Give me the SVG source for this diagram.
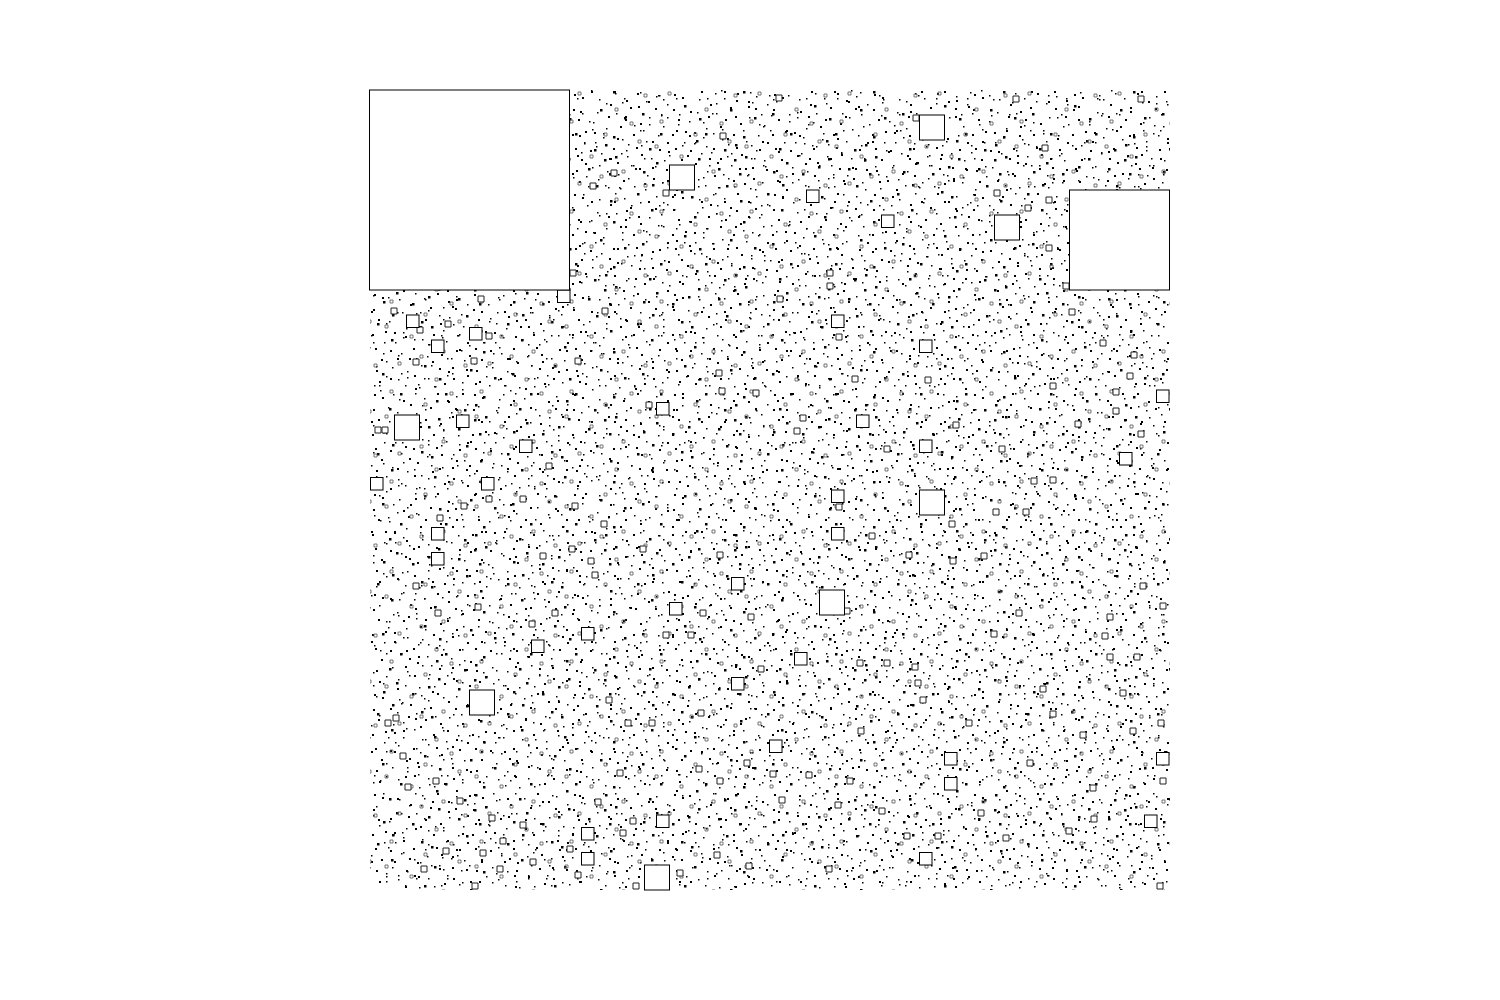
<svg xmlns="http://www.w3.org/2000/svg" width="1500" height="1000" viewBox="0 0 1500 1000">
<style>
.q{fill:#fff;stroke:#000;stroke-width:1}
.s{fill:#fff;stroke:#222;stroke-width:1}
.d{fill:#000}
.o{fill:none;stroke:#555;stroke-width:0.8}
</style>
<defs>
<pattern id="pa" x="370" y="90" width="100" height="100" patternUnits="userSpaceOnUse">
<path class="d" d="M12 7h2v2h-2zM78 11h2v2h-2zM3 19h2v2h-2zM60 17h2v2h-2zM70 33h2v2h-2zM15 41h2v2h-2zM5 58h2v2h-2zM66 57h2v2h-2zM96 79h2v2h-2zM47 72h2v2h-2zM9 91h2v2h-2zM74 93h2v2h-2zM40 14h2v2h-2zM55 29h2v2h-2zM63 44h2v2h-2zM43 58h2v2h-2zM11 69h2v2h-2zM89 59h2v2h-2zM69 78h2v2h-2zM83 88h2v2h-2zM2 44h2v2h-2zM67 3h2v2h-2zM50 36h2v2h-2zM8 29h2v2h-2zM71 64h2v2h-2zM20 60h2v2h-2zM44 85h2v2h-2zM6 80h2v2h-2zM85 18h2v2h-2zM38 26h2v2h-2zM97 52h2v2h-2zM24 42h2v2h-2zM82 77h2v2h-2zM4 4h2v2h-2zM39 68h2v2h-2z"/>
<path class="d" d="M45 3h1.5v1.5h-1.5zM91 24h1.5v1.5h-1.5zM27 22h1.5v1.5h-1.5zM36 38h1.5v1.5h-1.5zM88 45h1.5v1.5h-1.5zM52 49h1.5v1.5h-1.5zM31 63h1.5v1.5h-1.5zM81 68h1.5v1.5h-1.5zM22 77h1.5v1.5h-1.5zM58 88h1.5v1.5h-1.5zM35 95h1.5v1.5h-1.5zM86 6h1.5v1.5h-1.5zM19 31h1.5v1.5h-1.5zM93 36h1.5v1.5h-1.5zM25 52h1.5v1.5h-1.5zM76 51h1.5v1.5h-1.5zM57 66h1.5v1.5h-1.5zM37 81h1.5v1.5h-1.5zM16 86h1.5v1.5h-1.5zM49 97h1.5v1.5h-1.5zM29 9h1.5v1.5h-1.5zM97 14h1.5v1.5h-1.5zM79 27h1.5v1.5h-1.5zM33 47h1.5v1.5h-1.5zM94 70h1.5v1.5h-1.5zM61 75h1.5v1.5h-1.5zM28 89h1.5v1.5h-1.5zM73 40h1.5v1.5h-1.5zM54 8h1.5v1.5h-1.5zM14 52h1.5v1.5h-1.5zM64 96h1.5v1.5h-1.5zM46 23h1.5v1.5h-1.5zM58 54h1.5v1.5h-1.5zM92 92h1.5v1.5h-1.5zM77 85h1.5v1.5h-1.5z"/>
</pattern>
<pattern id="pb" x="395" y="121" width="130" height="130" patternUnits="userSpaceOnUse">
<path class="d" d="M5 12h2.5v2.5h-2.5zM41 19h2.5v2.5h-2.5zM88 15h2.5v2.5h-2.5zM124 27h2.5v2.5h-2.5zM33 45h2.5v2.5h-2.5zM79 38h2.5v2.5h-2.5zM118 50h2.5v2.5h-2.5zM26 70h2.5v2.5h-2.5zM71 64h2.5v2.5h-2.5zM112 72h2.5v2.5h-2.5zM39 95h2.5v2.5h-2.5zM85 79h2.5v2.5h-2.5zM126 88h2.5v2.5h-2.5zM29 114h2.5v2.5h-2.5zM75 118h2.5v2.5h-2.5zM117 122h2.5v2.5h-2.5zM44 127h2.5v2.5h-2.5zM88 100h2.5v2.5h-2.5zM36 75h2.5v2.5h-2.5zM80 23h2.5v2.5h-2.5zM17 52h2.5v2.5h-2.5zM63 47h2.5v2.5h-2.5zM50 12h2.5v2.5h-2.5zM99 126h2.5v2.5h-2.5zM43 37h2.5v2.5h-2.5zM84 52h2.5v2.5h-2.5zM127 63h2.5v2.5h-2.5zM90 35h2.5v2.5h-2.5zM69 28h2.5v2.5h-2.5zM1 41h2.5v2.5h-2.5z"/>
<path class="d" d="M23 3h1.5v1.5h-1.5zM67 8h1.5v1.5h-1.5zM109 4h1.5v1.5h-1.5zM14 34h1.5v1.5h-1.5zM56 31h1.5v1.5h-1.5zM101 29h1.5v1.5h-1.5zM7 61h1.5v1.5h-1.5zM48 56h1.5v1.5h-1.5zM93 53h1.5v1.5h-1.5zM19 88h1.5v1.5h-1.5zM62 84h1.5v1.5h-1.5zM104 96h1.5v1.5h-1.5zM3 104h1.5v1.5h-1.5zM52 107h1.5v1.5h-1.5zM97 111h1.5v1.5h-1.5zM12 126h1.5v1.5h-1.5zM66 99h1.5v1.5h-1.5zM121 110h1.5v1.5h-1.5zM58 73h1.5v1.5h-1.5zM95 67h1.5v1.5h-1.5zM108 44h1.5v1.5h-1.5zM27 24h1.5v1.5h-1.5zM74 94h1.5v1.5h-1.5zM8 81h1.5v1.5h-1.5zM115 9h1.5v1.5h-1.5zM21 107h1.5v1.5h-1.5zM57 122h1.5v1.5h-1.5zM33 59h1.5v1.5h-1.5zM106 84h1.5v1.5h-1.5zM47 86h1.5v1.5h-1.5z"/>
</pattern>
<pattern id="pe" x="412" y="97" width="110" height="110" patternUnits="userSpaceOnUse">
<path class="d" d="M6 9h2v2h-2zM31 2h1.5v1.5h-1.5zM58 14h2v2h-2zM84 6h1.5v1.5h-1.5zM103 19h2v2h-2zM17 27h1.5v1.5h-1.5zM44 33h2v2h-2zM71 25h1.5v1.5h-1.5zM95 41h2v2h-2zM9 48h1.5v1.5h-1.5zM36 54h2v2h-2zM62 46h1.5v1.5h-1.5zM88 61h2v2h-2zM23 69h1.5v1.5h-1.5zM50 76h2v2h-2zM77 68h1.5v1.5h-1.5zM101 83h2v2h-2zM13 92h1.5v1.5h-1.5zM40 99h2v2h-2zM66 89h1.5v1.5h-1.5zM92 104h2v2h-2zM27 108h1.5v1.5h-1.5zM55 58h2v2h-2zM81 36h1.5v1.5h-1.5zM3 71h2v2h-2zM47 17h1.5v1.5h-1.5zM69 104h2v2h-2zM99 56h1.5v1.5h-1.5zM20 44h2v2h-2zM86 90h1.5v1.5h-1.5zM35 83h2v2h-2zM74 49h1.5v1.5h-1.5zM57 38h2v2h-2zM12 61h1.5v1.5h-1.5zM104 3h2v2h-2zM29 18h1.5v1.5h-1.5zM63 66h2v2h-2zM91 77h1.5v1.5h-1.5zM44 92h2v2h-2zM8 105h1.5v1.5h-1.5z"/>
</pattern>
<pattern id="pc" x="380" y="100" width="90" height="90" patternUnits="userSpaceOnUse">
<path class="o" d="M10 20h3v3h-3zM55 8h3v3h-3zM78 40h3v3h-3zM30 55h3v3h-3zM62 70h3v3h-3zM18 82h3v3h-3zM44 33h3v3h-3zM84 84h3v3h-3zM5 45h3v3h-3zM70 22h3v3h-3zM40 75h3v3h-3z"/>
</pattern>
</defs>
<rect x="0" y="0" width="1500" height="1000" fill="#fff"/>
<g id="specks">
<rect x="370" y="90" width="800" height="800" fill="url(#pa)"/>
<rect x="370" y="90" width="800" height="800" fill="url(#pb)"/>
<rect x="370" y="90" width="800" height="800" fill="url(#pe)"/>
<rect x="370" y="90" width="800" height="800" fill="url(#pc)"/>
</g>
<g id="small-squares">
<path class="s" d="M776 95h6v6h-6zM1013 96h6v6h-6zM1138 96h6v6h-6zM720 133h6v6h-6zM590 183h6v6h-6zM611 170h6v6h-6zM1042 145h6v6h-6zM1046 197h6v6h-6zM1025 205h6v6h-6zM994 190h6v6h-6zM1046 245h6v6h-6zM827 270h6v6h-6zM827 283h6v6h-6zM777 296h6v6h-6zM602 308h6v6h-6zM478 296h6v6h-6zM391 308h6v6h-6zM445 321h6v6h-6zM486 333h6v6h-6zM413 359h6v6h-6zM417 327h6v6h-6zM471 358h6v6h-6zM575 358h6v6h-6zM716 370h6v6h-6zM719 388h6v6h-6zM646 402h6v6h-6zM800 415h6v6h-6zM794 428h6v6h-6zM753 390h6v6h-6zM852 376h6v6h-6zM836 334h6v6h-6zM925 377h6v6h-6zM953 422h6v6h-6zM1069 309h6v6h-6zM1100 340h6v6h-6zM1131 352h6v6h-6zM1127 373h6v6h-6zM1050 383h6v6h-6zM1113 389h6v6h-6zM1113 408h6v6h-6zM1075 421h6v6h-6zM1138 431h6v6h-6zM999 446h6v6h-6zM884 446h6v6h-6zM1031 478h6v6h-6zM1050 477h6v6h-6zM993 509h6v6h-6zM1023 509h6v6h-6zM949 521h6v6h-6zM981 553h6v6h-6zM950 558h6v6h-6zM906 552h6v6h-6zM869 533h6v6h-6zM836 504h6v6h-6zM717 552h6v6h-6zM640 546h6v6h-6zM569 546h6v6h-6zM588 558h6v6h-6zM592 572h6v6h-6zM540 553h6v6h-6zM546 463h6v6h-6zM572 503h6v6h-6zM601 521h6v6h-6zM520 496h6v6h-6zM486 496h6v6h-6zM461 503h6v6h-6zM437 515h6v6h-6zM413 583h6v6h-6zM435 610h6v6h-6zM475 604h6v6h-6zM552 610h6v6h-6zM529 621h6v6h-6zM700 610h6v6h-6zM688 632h6v6h-6zM663 632h6v6h-6zM748 614h6v6h-6zM758 666h6v6h-6zM844 608h6v6h-6zM857 660h6v6h-6zM884 660h6v6h-6zM912 664h6v6h-6zM915 680h6v6h-6zM920 697h6v6h-6zM966 720h6v6h-6zM1040 686h6v6h-6zM1050 711h6v6h-6zM1134 654h6v6h-6zM1107 654h6v6h-6zM1107 614h6v6h-6zM1102 633h6v6h-6zM1016 610h6v6h-6zM991 631h6v6h-6zM1160 603h6v6h-6zM1130 728h6v6h-6zM1158 720h6v6h-6zM1120 690h6v6h-6zM1080 732h6v6h-6zM1160 778h6v6h-6zM1090 785h6v6h-6zM1091 816h6v6h-6zM1066 828h6v6h-6zM1003 835h6v6h-6zM978 810h6v6h-6zM935 833h6v6h-6zM904 833h6v6h-6zM879 808h6v6h-6zM847 778h6v6h-6zM835 802h6v6h-6zM806 772h6v6h-6zM779 797h6v6h-6zM770 771h6v6h-6zM744 760h6v6h-6zM717 778h6v6h-6zM696 766h6v6h-6zM698 710h6v6h-6zM649 720h6v6h-6zM606 697h6v6h-6zM625 720h6v6h-6zM617 770h6v6h-6zM595 799h6v6h-6zM630 818h6v6h-6zM620 830h6v6h-6zM567 846h6v6h-6zM575 872h6v6h-6zM530 859h6v6h-6zM497 866h6v6h-6zM472 883h6v6h-6zM421 866h6v6h-6zM443 848h6v6h-6zM480 850h6v6h-6zM500 838h6v6h-6zM520 822h6v6h-6zM489 815h6v6h-6zM457 798h6v6h-6zM433 778h6v6h-6zM405 784h6v6h-6zM400 753h6v6h-6zM385 720h6v6h-6zM393 715h6v6h-6zM1157 883h6v6h-6zM1063 283h6v6h-6zM570 270h6v6h-6zM913 115h6v6h-6zM663 190h6v6h-6zM375 427h6v6h-6zM382 427h6v6h-6zM1140 583h6v6h-6zM1027 760h6v6h-6zM858 728h6v6h-6zM826 866h6v6h-6zM746 863h6v6h-6zM714 852h6v6h-6zM677 870h6v6h-6zM633 883h6v6h-6z"/>
</g>
<g id="medium-squares">
<rect class="q" x="557.5" y="290" width="12.5" height="12.5"/>
<rect class="q" x="406.5" y="315" width="12.5" height="12.5"/>
<rect class="q" x="431.5" y="340" width="12.5" height="12.5"/>
<rect class="q" x="469.5" y="327.5" width="12.5" height="12.5"/>
<rect class="q" x="456.5" y="415" width="12.5" height="12.5"/>
<rect class="q" x="519.5" y="440" width="12.5" height="12.5"/>
<rect class="q" x="481.5" y="477.5" width="12.5" height="12.5"/>
<rect class="q" x="370.5" y="477.5" width="12.5" height="12.5"/>
<rect class="q" x="431.5" y="527.5" width="12.5" height="12.5"/>
<rect class="q" x="431.5" y="552.5" width="12.5" height="12.5"/>
<rect class="q" x="581.5" y="627.5" width="12.5" height="12.5"/>
<rect class="q" x="531.5" y="640" width="12.5" height="12.5"/>
<rect class="q" x="669.5" y="602.5" width="12.5" height="12.5"/>
<rect class="q" x="731.5" y="577.5" width="12.5" height="12.5"/>
<rect class="q" x="731.5" y="677.5" width="12.5" height="12.5"/>
<rect class="q" x="794.5" y="652.5" width="12.5" height="12.5"/>
<rect class="q" x="831.5" y="490" width="12.5" height="12.5"/>
<rect class="q" x="831.5" y="527.5" width="12.5" height="12.5"/>
<rect class="q" x="856.5" y="415" width="12.5" height="12.5"/>
<rect class="q" x="831.5" y="315" width="12.5" height="12.5"/>
<rect class="q" x="919.5" y="340" width="12.5" height="12.5"/>
<rect class="q" x="919.5" y="440" width="12.5" height="12.5"/>
<rect class="q" x="1119.5" y="452.5" width="12.5" height="12.5"/>
<rect class="q" x="1156.5" y="390" width="12.5" height="12.5"/>
<rect class="q" x="1156.5" y="752.5" width="12.5" height="12.5"/>
<rect class="q" x="1144.5" y="815" width="12.5" height="12.5"/>
<rect class="q" x="944.5" y="752.5" width="12.5" height="12.5"/>
<rect class="q" x="944.5" y="777.5" width="12.5" height="12.5"/>
<rect class="q" x="769.5" y="740" width="12.5" height="12.5"/>
<rect class="q" x="656.5" y="815" width="12.5" height="12.5"/>
<rect class="q" x="581.5" y="827.5" width="12.5" height="12.5"/>
<rect class="q" x="581.5" y="852.5" width="12.5" height="12.5"/>
<rect class="q" x="919.5" y="852.5" width="12.5" height="12.5"/>
<rect class="q" x="656.5" y="402.5" width="12.5" height="12.5"/>
<rect class="q" x="806.5" y="190" width="12.5" height="12.5"/>
<rect class="q" x="881.5" y="215" width="12.5" height="12.5"/>
</g>
<g id="large-squares">
<rect class="q" x="919.5" y="115" width="25" height="25"/>
<rect class="q" x="669.5" y="165" width="25" height="25"/>
<rect class="q" x="994.5" y="215" width="25" height="25"/>
<rect class="q" x="394.5" y="415" width="25" height="25"/>
<rect class="q" x="469.5" y="690" width="25" height="25"/>
<rect class="q" x="919.5" y="490" width="25" height="25"/>
<rect class="q" x="819.5" y="590" width="25" height="25"/>
<rect class="q" x="644.5" y="865" width="25" height="25"/>
<rect class="q" x="1069.5" y="190" width="100" height="100"/>
<rect class="q" x="369.5" y="90" width="200" height="200"/>
</g>
</svg>
